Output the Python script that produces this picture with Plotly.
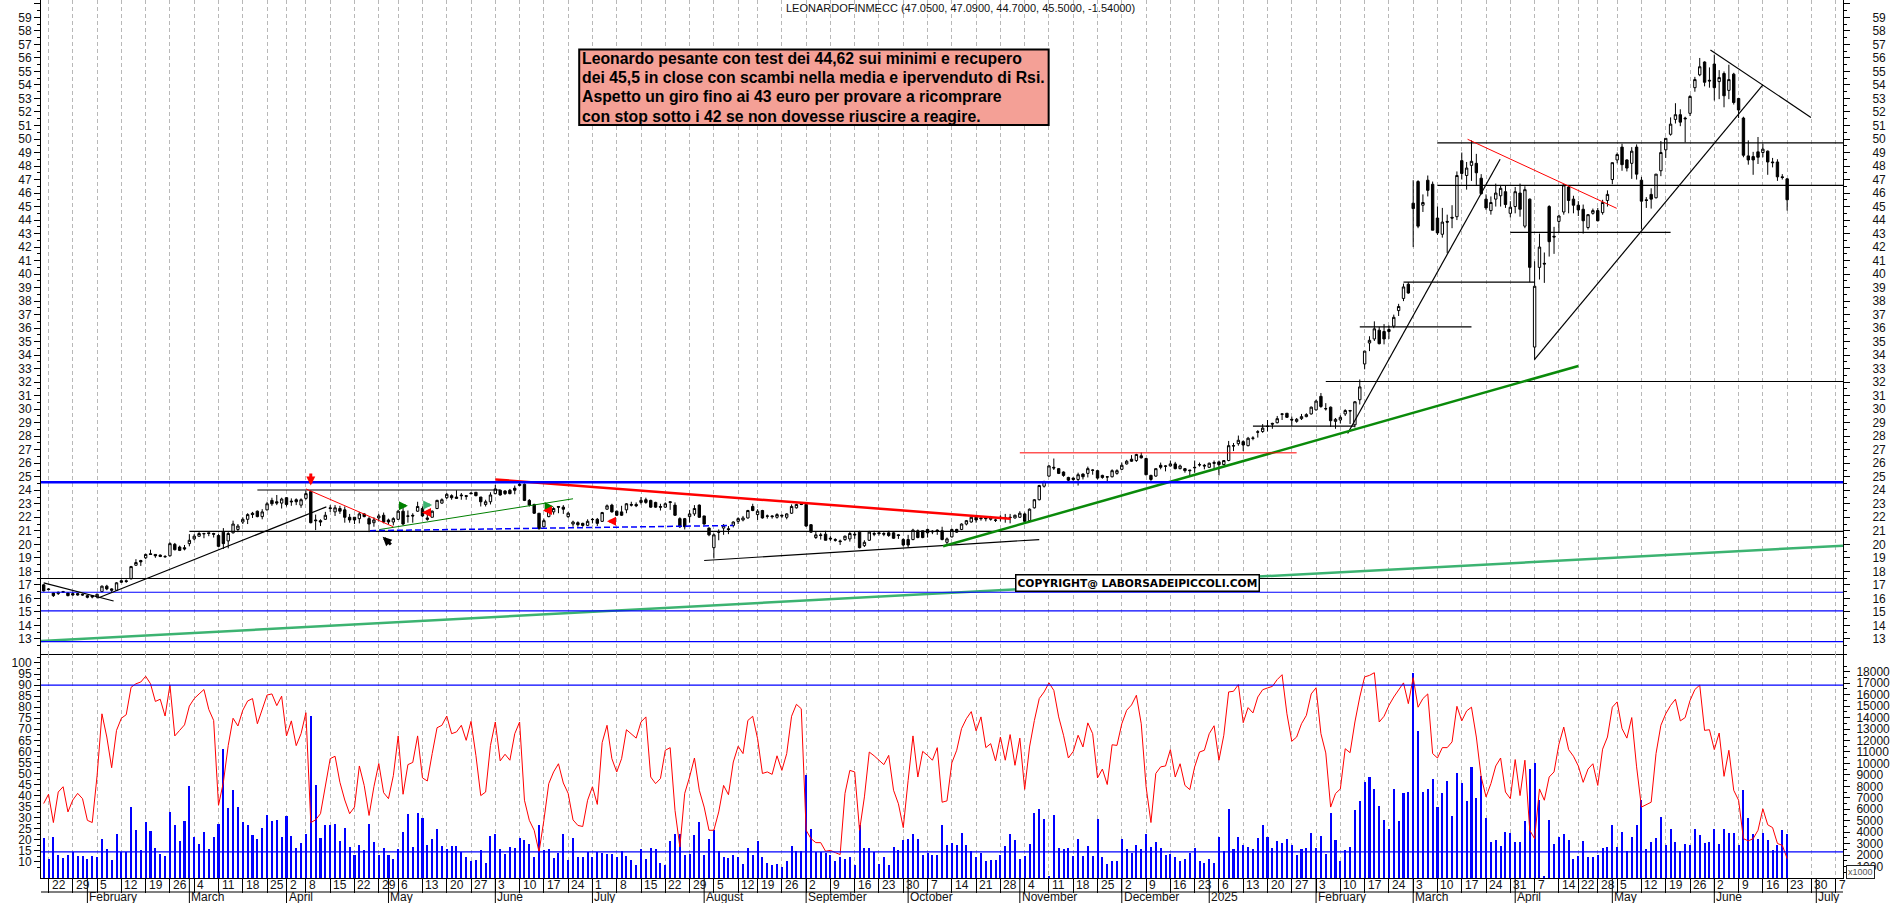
import plotly.graph_objects as go

opens = [17.0,16.7,16.4,16.35,16.5,16.4,16.35,16.35,16.3,16.2,
16.2,16.1,16.5,16.9,16.7,16.6,17.3,17.3,17.45,18.45,
18.8,19.0,19.3,19.25,19.2,19.1,19.15,20.0,19.8,19.75,
20.05,20.4,20.6,20.8,20.85,20.8,20.65,20.9,20.25,20.85,
21.1,21.65,21.85,22.3,22.45,22.05,22.55,23.25,23.15,23.05,
23.45,23.2,23.3,22.9,23.4,23.9,21.8,21.75,21.85,22.7,
22.4,22.65,22.55,22.0,22.0,21.9,22.25,21.9,21.6,21.95,
22.15,21.8,21.65,21.85,22.45,22.1,22.15,22.45,22.65,21.95,
22.0,22.65,23.05,23.45,23.6,23.5,23.65,23.6,23.8,23.85,
23.5,22.95,23.15,23.75,24.0,23.95,24.0,24.15,24.35,24.45,
23.25,22.95,22.3,21.3,22.05,22.4,22.8,22.75,22.05,21.5,
21.6,21.55,21.4,21.85,21.85,21.7,22.6,22.9,22.45,22.4,
22.55,22.95,22.95,23.1,23.3,23.25,23.1,22.8,22.75,23.15,
22.9,21.9,21.9,22.05,22.25,22.9,22.1,21.2,19.75,20.95,
21.2,21.15,21.4,21.7,21.8,21.95,22.8,22.2,22.5,22.1,
22.1,22.0,22.15,22.0,22.3,22.7,23.0,22.95,21.45,20.5,
20.7,20.75,20.45,20.35,20.25,20.35,20.4,20.75,20.9,19.9,
20.3,20.8,20.85,20.8,20.85,20.85,20.7,20.35,20.35,20.35,
21.0,21.0,21.1,20.97,20.95,21.0,20.15,20.55,21.1,21.1,
21.5,21.65,22.0,21.95,21.95,21.85,21.8,22.0,21.95,22.0,
21.95,22.0,22.25,21.75,22.7,23.3,24.3,25.05,25.7,25.6,
25.35,24.95,24.9,24.8,25.2,25.25,25.5,25.45,25.1,25.0,
25.0,25.25,25.55,25.95,26.3,26.2,26.55,26.35,25.1,25.05,
25.85,25.8,25.8,25.95,25.6,25.6,25.5,25.7,25.9,25.85,
25.7,26.05,26.1,25.9,26.2,27.3,27.45,27.6,27.3,27.87,
28.33,28.35,28.75,28.95,29.0,29.65,29.7,29.25,29.1,29.3,
29.45,29.65,29.95,30.95,30.05,30.15,29.1,29.2,29.65,29.9,
28.85,30.7,33.35,34.9,35.2,35.85,35.75,35.75,36.15,37.3,
38.2,39.25,45.25,46.85,45.1,46.95,46.65,44.15,42.95,43.9,
44.2,44.25,48.4,47.3,48.05,48.2,47.1,45.55,44.7,45.55,
45.8,46.1,44.5,45.0,46.0,43.55,45.55,34.6,40.5,40.8,
45.0,42.8,43.9,44.6,46.45,45.55,45.1,44.8,43.45,44.5,
44.7,44.55,45.45,47.0,48.45,49.4,48.45,48.2,49.4,46.95,
45.5,45.9,45.65,47.65,49.2,50.35,51.45,51.8,51.55,51.9,
53.8,54.75,55.7,54.35,55.55,54.25,54.85,53.6,54.8,53.0,
51.55,48.75,48.7,49.05,49.0,49.1,48.3,48.3,47.2,47.05]

highs = [17.05,16.75,16.45,16.5,16.55,16.45,16.5,16.4,16.35,16.25,
16.25,16.35,16.95,17.0,16.75,17.2,17.4,17.4,18.4,18.9,
18.85,19.3,19.6,19.25,19.25,19.2,20.15,20.1,19.9,19.95,
20.75,20.75,20.9,20.85,20.85,20.85,20.75,21.2,20.9,21.75,
21.5,22.0,22.3,22.4,22.5,22.6,23.15,23.45,23.65,23.45,
23.5,23.4,23.4,23.4,23.95,24.0,22.2,21.85,22.4,22.9,
22.9,22.85,22.8,22.25,22.0,22.4,22.3,22.05,22.0,22.25,
22.35,21.9,22.0,22.55,22.85,22.5,22.3,23.15,22.8,22.25,
22.5,23.3,23.4,23.8,23.7,24.0,23.8,23.65,23.85,23.85,
23.5,23.3,23.85,24.4,24.05,24.0,24.1,24.35,24.65,24.5,
23.35,23.0,22.3,21.9,22.9,22.75,22.8,22.9,22.4,21.75,
21.7,21.6,21.85,21.95,21.95,22.4,22.95,23.0,22.5,22.85,
23.05,23.15,23.1,23.5,23.45,23.3,23.15,23.0,23.1,23.2,
23.1,22.0,21.95,22.55,22.9,22.95,22.1,21.25,20.8,21.1,
21.5,21.35,21.7,22.0,22.1,22.55,23.0,22.6,22.55,22.2,
22.15,22.3,22.2,22.3,22.95,23.0,23.05,23.0,21.5,20.95,
20.85,21.0,20.6,20.45,20.35,20.65,20.95,20.95,21.0,20.3,
21.0,21.0,20.9,20.9,21.0,20.9,20.75,20.45,20.7,21.15,
21.1,21.0,21.15,21.05,21.1,21.3,20.5,21.15,21.15,21.55,
21.8,22.05,22.15,22.05,22.0,22.1,21.9,22.15,22.25,22.25,
22.2,22.45,22.35,22.65,23.35,24.4,24.7,25.85,26.35,25.65,
25.4,25.0,24.95,25.3,25.25,25.75,25.55,25.5,25.15,25.05,
25.55,25.55,26.05,26.25,26.6,26.7,26.8,26.4,25.15,25.6,
26.05,25.85,26.2,26.1,25.9,25.65,25.5,26.2,26.05,25.95,
26.05,26.2,26.2,26.2,27.65,27.5,28.05,27.7,27.95,28.0,
28.45,28.9,29.2,29.0,29.5,29.7,29.7,29.45,29.35,29.65,
29.7,30.2,30.7,31.2,30.45,30.2,29.35,29.55,30.0,29.95,
30.6,32.2,34.3,35.4,36.5,36.1,36.3,36.2,37.0,37.8,
39.3,39.4,46.95,46.95,45.9,47.3,46.85,45.0,44.9,44.4,
45.1,47.6,49.0,48.3,49.9,48.9,47.4,45.9,45.75,46.7,
46.6,46.55,45.4,46.45,46.7,46.5,45.6,40.95,43.0,41.6,
45.1,43.5,44.4,46.65,46.55,45.8,45.4,45.15,44.45,44.85,
44.9,45.5,46.2,48.25,49.0,49.65,48.5,49.4,49.6,47.2,
45.7,46.35,47.4,49.85,50.05,51.6,52.65,52.2,51.65,53.25,
54.6,56.0,55.75,55.3,56.25,55.1,55.0,55.5,54.9,53.05,
51.65,49.9,49.05,50.15,49.65,49.15,48.6,48.5,47.4,47.09]

lows = [16.5,16.6,16.1,16.25,16.4,16.15,16.2,16.2,16.2,16.0,
16.0,16.0,16.45,16.6,16.45,16.55,17.15,17.15,17.4,18.4,
18.4,18.9,19.25,19.0,19.05,19.0,19.1,19.55,19.5,19.55,
19.85,20.3,20.55,20.45,20.6,20.5,19.8,19.65,19.7,20.8,
20.9,21.5,21.5,21.95,22.0,21.85,22.5,22.85,22.9,22.65,
22.8,22.85,22.9,22.7,23.3,21.55,21.05,21.35,21.8,22.4,
22.1,22.25,21.6,21.6,21.5,21.55,22.0,20.9,21.3,21.7,
21.55,21.5,21.4,21.8,21.4,21.6,21.6,22.4,22.0,21.75,
22.0,22.6,23.0,23.35,23.3,23.4,23.3,23.3,23.7,23.55,
22.8,22.8,22.95,23.7,23.6,23.65,23.7,23.7,24.3,23.2,
22.8,22.25,21.1,21.25,22.0,22.2,22.3,22.25,21.95,21.3,
21.3,21.3,21.35,21.55,21.35,21.65,22.55,22.35,22.1,22.1,
22.3,22.8,22.75,22.95,23.0,22.7,22.7,22.5,22.7,22.55,
22.1,21.2,21.1,21.6,22.1,21.95,21.45,20.6,18.95,20.3,
20.7,20.75,21.25,21.5,21.7,21.9,22.45,21.8,21.9,21.9,
21.9,21.9,21.95,21.85,22.25,22.65,22.9,21.3,20.85,20.4,
20.35,20.3,20.25,20.2,19.95,20.25,20.2,20.4,19.7,19.8,
20.25,20.6,20.65,20.6,20.55,20.4,20.4,19.85,19.75,20.3,
20.45,20.45,20.5,20.75,20.7,20.3,19.95,20.5,20.85,21.05,
21.4,21.6,21.6,21.75,21.7,21.75,21.65,21.7,21.6,21.55,
21.9,21.95,21.65,21.7,22.65,23.25,24.2,25.0,25.5,25.2,
25.0,24.6,24.7,24.35,24.8,24.95,25.15,24.8,24.85,24.6,
24.95,25.15,25.5,25.9,26.1,26.1,26.35,25.1,24.7,25.0,
25.55,25.4,25.75,25.55,25.55,25.3,25.05,25.3,25.75,25.55,
25.65,25.55,25.1,25.85,26.15,26.9,27.3,26.9,27.25,27.7,
27.9,28.25,28.35,28.55,28.95,29.2,29.35,28.75,29.0,29.2,
29.4,29.6,29.9,30.1,29.9,28.7,28.55,28.95,29.5,28.9,
28.65,30.35,32.95,34.3,35.05,34.8,34.8,35.2,36.0,36.9,
38.0,38.55,42.0,43.4,44.6,45.75,43.25,42.9,42.7,41.55,
43.4,44.0,47.0,46.25,46.9,46.55,45.9,44.75,44.4,45.0,
45.0,44.9,44.2,44.5,44.25,43.4,39.4,33.65,39.6,39.35,
41.3,41.5,43.1,44.4,44.5,44.5,44.3,43.0,43.3,44.4,
43.9,44.4,45.0,46.65,48.2,47.65,47.6,47.05,47.0,43.3,
44.9,44.85,45.6,47.25,48.6,50.25,51.15,50.95,49.75,51.7,
53.5,54.65,53.9,53.8,52.85,52.95,52.35,52.95,52.55,51.55,
48.65,48.1,47.35,48.15,48.65,47.35,47.9,46.9,47.0,44.7]

closes = [16.55,16.65,16.2,16.45,16.45,16.2,16.25,16.25,16.25,16.08,
16.1,16.3,16.9,16.7,16.6,17.15,17.2,17.25,18.35,18.65,
18.7,19.25,19.25,19.15,19.1,19.08,20.05,19.6,19.55,19.65,
20.3,20.6,20.8,20.78,20.8,20.75,19.85,20.05,20.8,21.5,
21.35,21.85,22.2,22.2,22.05,22.4,23.0,23.0,23.05,23.35,
22.95,23.15,23.15,23.3,23.75,21.6,21.75,21.65,22.15,22.65,
22.7,22.45,22.0,21.8,21.8,22.25,22.05,21.5,21.8,22.1,
21.65,21.65,21.9,22.45,21.5,22.08,22.1,22.8,22.1,21.85,
22.45,23.25,23.3,23.7,23.45,23.4,23.6,23.55,23.75,23.6,
23.15,23.15,23.65,24.1,23.65,23.75,23.75,24.0,24.45,23.25,
22.9,22.3,21.15,21.75,22.75,22.65,22.75,22.6,22.3,21.65,
21.45,21.4,21.7,21.83,21.55,22.35,22.85,22.4,22.15,22.15,
23.0,22.9,22.85,23.25,23.1,22.75,22.75,22.75,23.0,23.1,
22.15,21.3,21.3,22.25,22.65,22.0,21.5,20.7,20.7,20.9,
21.4,21.1,21.65,21.9,21.95,22.5,22.5,22.45,21.95,22.08,
22.05,22.2,22.1,22.25,22.8,22.95,22.95,21.35,20.9,20.7,
20.65,20.3,20.4,20.3,20.2,20.6,20.8,20.7,19.75,20.15,
20.9,20.75,20.8,20.75,20.65,20.45,20.65,19.95,19.95,21.05,
20.5,20.5,20.85,20.93,21.05,20.35,20.4,21.1,20.9,21.5,
21.75,22.0,21.8,21.9,21.9,22.0,21.78,21.95,21.93,21.98,
22.15,22.3,21.7,22.6,23.3,24.35,24.65,25.8,25.65,25.25,
25.1,24.75,24.8,25.15,25.0,25.6,25.48,24.9,24.95,24.98,
25.45,25.45,25.85,26.15,26.15,26.65,26.4,25.15,24.8,25.6,
25.7,25.78,25.95,25.6,25.8,25.45,25.45,25.67,25.88,25.8,
26.0,26.0,25.9,26.2,27.3,27.28,27.7,27.35,27.85,27.85,
28.3,28.6,28.72,28.9,29.3,29.63,29.4,29.2,29.25,29.45,
29.6,30.15,30.6,30.2,30.03,29.15,29.25,29.4,29.9,29.87,
30.55,31.65,34.3,35.1,35.95,34.85,35.2,35.9,36.8,37.6,
39.05,38.6,44.85,43.55,45.3,46.2,43.25,43.05,43.85,43.85,
44.15,47.3,47.45,47.85,48.35,47.5,45.95,44.9,45.3,46.0,
46.35,45.15,44.95,46.1,44.8,46.25,40.5,39.1,42.0,40.75,
42.4,42.75,44.3,46.6,45.45,45.1,44.75,43.95,44.4,44.7,
43.95,45.3,45.9,48.25,48.85,48.1,47.85,49.1,47.4,45.4,
45.45,45.55,47.4,49.0,50.05,51.1,51.8,51.25,51.5,53.15,
54.4,55.35,54.2,54.3,53.8,54.55,53.2,54.4,52.7,52.15,
48.8,48.45,48.45,48.65,49.25,48.3,48.25,47.2,47.15,45.5]

rsi = [36.4,40.6,27.8,41.6,44,32.6,38,41,38.6,28.8,
27.8,49,77,66.5,52.6,69.5,75,76.6,89,90.6,
91.4,94,90.6,82.6,83.6,76,90,67,69.5,72,
80.5,83.9,86,88,79,74,35.6,46,62.7,75,
71.5,78.6,82.8,83.9,72.5,78.6,85.5,86,80.7,85,
67,73.8,62.6,68,77.5,27.8,29,31.8,44,56.7,
57.8,46,38,31.8,34.8,53.4,44.6,31,44,54.5,
41.3,38.6,49,67,40.6,54,55,67,48,46.6,
59,70.7,71.8,76,68,68.8,71.8,65,73.6,58.2,
40,41.6,62.7,73.3,55.7,58.7,56,68,73.3,37.9,
28.8,24.3,14.5,28.8,45.4,50.7,54.4,45.7,41,29,
26.5,26,37.9,44,36,64,71.8,56.7,50.7,56.7,
69.8,67.7,66,73.3,75.6,48.4,45.4,47.7,60.5,61.7,
33.3,16.7,41,48.4,57,42.4,34.8,24.3,24.3,32.6,
44.6,40.4,55.2,62.3,59,74,75.9,65.8,50,50.7,
49.6,58,51.4,59,75.9,81.3,79.3,24.3,20.5,18.7,
18.7,14.8,15.2,14.2,13.3,41,51.4,50.7,24.3,39.4,
59.7,58,56,54,58.2,42.4,36.3,25.5,46.9,67,
48.4,60,58.2,56,61.7,37,37.6,54.8,60.5,70.3,
74.8,78,69.3,75.6,61.7,63.5,55.7,66.5,56,67.6,
53.7,66,42.8,62,74,83.9,86.9,91,87.6,75.6,
67.3,57,60,67.3,62,72.9,68,48,52,45,
63,62.7,72.5,78.6,81,85.4,72.5,44,27.8,50,
53,53.4,60.8,48.4,54.4,44.6,42.7,53,59.7,60.5,
68,71.6,56,67.3,86.9,87.2,90.2,73,79.8,77.4,
84.6,87.9,88.7,89.4,92.5,94.7,77,64.6,66.5,72.5,
76.3,86,88.8,68,59.3,34.8,40.9,43,61.2,59.4,
73.3,84.6,93.7,94.4,95.6,73.3,75.9,80.8,84.6,87.6,
91,81.6,93.4,80,83.9,86,59,57,61.7,61.7,
64.3,80.4,73.8,78.3,80,66.5,48.4,39.4,45.4,53.4,
57,41.6,38.6,56.3,40,56,24.3,20.5,43,37.9,
48.4,50.7,63.2,71,60.8,57.8,53.4,46,52,54.4,
44.6,61,66.5,80,82.4,70.3,66,75.3,53,34.8,
36,37,59,71.8,77,80.8,83.6,73.8,75.3,83,
88,90,69.5,69.8,60.8,68.3,48.7,60.5,42.4,37.9,
20.5,19.5,20.5,24.3,34,26.8,25.5,18.3,17.5,11.5]

volume = [3500,1700,3600,2000,1750,2000,2250,1900,1900,1700,
1950,1850,3400,2550,1600,3850,2250,2250,6200,4200,
2450,4850,4100,2600,2100,1950,5800,4650,3200,5000,
8050,3550,3000,4000,2500,3550,4750,11300,6100,7700,
6200,4900,4650,3750,3400,4400,5500,5000,5100,3600,
5400,3650,2600,3050,3800,14100,8100,3450,4650,4650,
4700,3200,4400,2700,2050,2900,2450,4700,3150,2050,
2600,2050,1650,2500,4000,5600,2700,5700,5250,2900,
3400,4300,2750,2500,2750,2750,2250,1800,1450,1550,
2450,1350,3650,3800,2550,2100,2700,2600,3450,3300,
3000,1850,4650,2450,2550,1750,2200,3850,1550,3450,
1850,1800,2300,1800,2300,2200,2100,2100,1800,2350,
1950,1600,1150,2500,1700,2600,2550,1300,1150,3250,
3800,3850,2050,2100,3750,4900,2050,3400,4150,2350,
1850,1750,2050,1850,1250,2600,2000,3200,1850,1350,
1100,1200,950,1450,2750,2350,2350,9000,4300,2250,
2250,2150,2050,1450,1850,1700,1800,1150,4650,2600,
2600,2250,1200,1850,1150,2700,2450,3300,3400,3850,
3400,2000,2200,2000,2000,4600,2900,3050,2850,3900,
2850,2400,1850,2200,1500,1600,1600,2000,2750,3850,
3350,1700,1900,3000,5700,6000,5150,150,5500,2600,
2500,2600,1900,3400,1900,2750,1950,5150,1850,1250,
1450,1450,3400,2550,2200,2900,2550,3850,2700,3150,
2600,2000,2100,1850,1450,1700,2200,2600,1500,1300,
1650,1300,3600,2350,6000,2550,3550,2900,2700,2550,
3450,4650,3600,2600,3250,3050,3400,2900,2050,2500,
2600,3900,2600,3700,2100,5700,3300,1500,2450,2700,
5900,6750,8400,8800,7750,6300,5100,4300,7800,5000,
7400,7500,17900,12800,7500,7800,8600,6200,7450,8500,
5450,9200,8250,6750,9700,7000,8900,5250,3150,3300,
2750,4000,3900,3100,3100,5000,9550,10000,6800,100,
5100,3000,3600,3850,3350,1700,1950,3200,1850,1850,
2050,2600,2700,4650,2700,4000,2350,3550,4600,6850,
2550,3150,3500,5350,2850,4250,3150,2350,3000,2900,
4300,3750,3050,3100,4300,3000,4300,3950,3900,2900,
7700,5250,3800,3400,3900,3350,2450,2850,4150,3850]

week_idx = [1,6,11,16,21,26,31,36,41,46,50,54,59,64,69,73,78,83,88,93,98,103,108,113,118,123,128,133,138,143,147,152,157,162,167,172,177,182,187,192,197,202,207,212,217,222,227,232,237,242,247,252,257,262,267,272,277,282,287,292,297,302,307,312,316,320,324,329,334,339,344,349,354,359,364,369]
week_labels = [22,29,5,12,19,26,4,11,18,25,2,8,15,22,29,6,13,20,27,3,10,17,24,1,8,15,22,29,5,12,19,26,2,9,16,23,30,7,14,21,28,4,11,18,25,2,9,16,23,6,13,20,27,3,10,17,24,3,10,17,24,31,7,14,22,28,5,12,19,26,2,9,16,23,30,7]
month_idx = [9,30,50,71,93,113,136,157,178,201,222,240,262,282,303,323,344,365]
month_labels = ["February","March","April","May","June","July","August","September","October","November","December","2025","February","March","April","May","June","July"]

price_ticks = list(range(13, 61))
rsi_ticks = list(range(10, 101, 5))
vol_ticks = list(range(1000, 18001, 1000))

note_lines = ["Leonardo pesante con test dei 44,62 sui minimi e recupero",
              "dei 45,5 in close con scambi nella media e ipervenduto di Rsi.",
              "Aspetto un giro fino ai 43 euro per provare a ricomprare",
              "con stop sotto i 42 se non dovesse riuscire a reagire."]

XMIN, XMAX = -0.55, 370.5

# (x0, y0, x1, y1) in bar index and price
black_lines = [
    (XMIN,17.47,XMAX,17.47),(30,20.96,XMAX,20.96),(264,32.05,XMAX,32.05),
    (44,24.02,94,24.02),(280,39.4,307,39.4),(271,36.1,294,36.1),(249,28.75,270,28.75),
    (287,49.72,XMAX,49.72),(287,46.57,XMAX,46.57),(302,43.09,335,43.09),
    (0,17.15,14.4,15.8),(11.2,16.03,58.2,22.77),(343.2,56.59,363.9,51.6),
    (307,33.68,354,54),(268.5,28.2,299.9,48.5),(136,18.8,205,20.35),
]
thin_blue_levels = [16.45,15.07,12.8]
blue_top = 24.6
red_thin = [(54,24.1,72,21.3),(201,26.77,258,26.77),(293.2,49.98,323.9,44.87)]
red_thick = (93,24.8,199.1,21.9)
green_thick = (185.2,19.86,316,33.2)
green_thin = (69.1,21.09,109,23.37)
seagreen_thick = (XMIN,12.84,XMAX,19.9)
blue_dash = (67.2,21.01,142,21.39)
arrows = [  # tip x, tip y, tail x, tail y, colour
    (55,24.35,55,25.35,"#ff0000"),
    (69.8,20.55,71.8,19.88,"#000000"),
    (75,22.85,73.2,22.85,"#008000"),
    (80,22.9,78.4,22.9,"#3cb371"),
    (77.9,22.35,80,22.35,"#ff0000"),
    (105,22.8,103,22.8,"#008000"),
    (102.8,22.5,104.6,22.5,"#ff0000"),
    (116,21.7,117.6,21.7,"#ff0000"),
]

FONT = "Liberation Sans, Arial, sans-serif"
PLOT_H = 878.0
PLOT_W = 1808.0
def py(px): return (PLOT_H - px) / PLOT_H
def pxx(px): return (px - 41) / PLOT_W

x = list(range(len(closes)))
fig = go.Figure()
fig.add_trace(go.Candlestick(x=x, open=opens, high=highs, low=lows, close=closes,
    increasing=dict(line=dict(color="black", width=1), fillcolor="white"),
    decreasing=dict(line=dict(color="black", width=1), fillcolor="black"),
    whiskerwidth=0, xaxis="x", yaxis="y", showlegend=False, hoverinfo="skip"))
fig.add_trace(go.Scatter(x=x, y=closes, mode="lines", line=dict(width=0), opacity=0,
    xaxis="x", yaxis="y3", showlegend=False, hoverinfo="skip"))

def seg(s, color, width, dash="solid"):
    fig.add_trace(go.Scatter(x=[s[0], s[2]], y=[s[1], s[3]], mode="lines",
        line=dict(color=color, width=width, dash=dash),
        xaxis="x", yaxis="y", showlegend=False, hoverinfo="skip"))

seg(seagreen_thick, "#3cb371", 2.5)
for lvl in thin_blue_levels:
    seg((XMIN, lvl, XMAX, lvl), "#0000ff", 1.2)
for s in black_lines:
    seg(s, "black", 1.2)
seg(green_thin, "#008000", 1)
seg(green_thick, "#0a8a0a", 2.5)
for s in red_thin:
    seg(s, "#ff0000", 1)
seg(red_thick, "#ff0000", 2.5)
seg(blue_dash, "#0000ff", 1.5, "6px,3px")
seg((XMIN, blue_top, XMAX, blue_top), "#0000ff", 2.5)

fig.add_trace(go.Bar(x=x, y=volume, marker=dict(color="#0000ff", line=dict(width=0)), width=0.42,
    xaxis="x2", yaxis="y2", showlegend=False, hoverinfo="skip"))
fig.add_trace(go.Scatter(x=x, y=rsi, mode="lines", line=dict(color="#ff0000", width=1),
    xaxis="x2", yaxis="y4", showlegend=False, hoverinfo="skip"))
for lvl in (90, 14.5):
    fig.add_trace(go.Scatter(x=[XMIN, XMAX], y=[lvl, lvl], mode="lines", line=dict(color="#0000ff", width=1.2),
        xaxis="x2", yaxis="y4", showlegend=False, hoverinfo="skip"))

tick_font = dict(family=FONT, size=12, color="#111111")
grid = dict(showgrid=True, gridcolor="#b8b8b8", griddash="4px,3px", gridwidth=1)
ax_common = dict(range=[XMIN, XMAX], tickmode="array", tickvals=week_idx, zeroline=False,
                 showline=True, linecolor="black", linewidth=1.2, **grid)
DOM = (PLOT_H - 654) / PLOT_H
y_minor = dict(showgrid=False, ticks="outside", ticklen=3, tickcolor="black")
fig.update_layout(
    width=1890, height=903, autosize=False, paper_bgcolor="white", plot_bgcolor="white",
    margin=dict(l=41, r=41, t=0, b=25, pad=0), showlegend=False, bargap=0,
    font=dict(family=FONT, size=12, color="#111111"),
    xaxis=dict(domain=[0,1], anchor="y", showticklabels=False, ticks="", rangeslider=dict(visible=False), **ax_common),
    xaxis2=dict(domain=[0,1], anchor="y2", showticklabels=False, ticks="outside", ticklen=14, tickcolor="black", matches="x", **ax_common),
    yaxis=dict(domain=[DOM,1], anchor="x", range=[11.88,60.29], tickmode="array", tickvals=price_ticks,
               ticks="outside", ticklen=6, tickcolor="black", showgrid=False, zeroline=False, showline=True,
               linecolor="black", tickfont=tick_font, minor=dict(tick0=0.5, dtick=1, **y_minor)),
    yaxis3=dict(domain=[DOM,1], anchor="x", overlaying="y", side="right", range=[11.88,60.29], tickmode="array",
                tickvals=price_ticks, ticks="outside", ticklen=6, tickcolor="black", showgrid=False, zeroline=False,
                showline=True, linecolor="black", tickfont=tick_font, ticklabelstandoff=20,
                minor=dict(tick0=0.5, dtick=1, **y_minor)),
    yaxis2=dict(domain=[0,DOM], anchor="x2", side="right", range=[0,19550], tickmode="array", tickvals=vol_ticks,
                tickformat="d", ticks="outside", ticklen=6, tickcolor="black", showgrid=False, zeroline=False, showline=True,
                linecolor="black", tickfont=tick_font, ticklabelstandoff=4,
                minor=dict(tick0=500, dtick=1000, **y_minor)),
    yaxis4=dict(domain=[0,DOM], anchor="x2", overlaying="y2", side="left", range=[2.7,104.07], tickmode="array",
                tickvals=rsi_ticks, ticks="outside", ticklen=6, tickcolor="black", showgrid=False, zeroline=False,
                showline=True, linecolor="black", tickfont=tick_font, minor=dict(tick0=2.5, dtick=5, **y_minor)),
)

anns = []
lab_font = dict(family=FONT, size=12, color="#111111")
for i, t in zip(week_idx, week_labels):
    anns.append(dict(x=i, y=py(884.6), xref="x2", yref="paper", text=str(t), showarrow=False,
                     xanchor="left", yanchor="middle", xshift=1, font=lab_font))
for i, t in zip(month_idx, month_labels):
    anns.append(dict(x=i, y=py(897), xref="x2", yref="paper", text=t, showarrow=False,
                     xanchor="left", yanchor="middle", xshift=0, font=lab_font))
for a in arrows:
    anns.append(dict(x=a[0], y=a[1], ax=a[2], ay=a[3], xref="x", yref="y", axref="x", ayref="y", text="",
                     showarrow=True, arrowhead=2, arrowsize=0.6, arrowwidth=3, arrowcolor=a[4]))
anns.append(dict(x=pxx(786), y=py(8.5), xref="paper", yref="paper", xanchor="left", yanchor="middle", showarrow=False,
                 text="LEONARDOFINMECC (47.0500, 47.0900, 44.7000, 45.5000, -1.54000)",
                 font=dict(family=FONT, size=11, color="#111111")))
for n, line in enumerate(note_lines):
    anns.append(dict(x=pxx(582), y=py(58.5 + 19.2 * n), xref="paper", yref="paper", xanchor="left", yanchor="middle",
                     showarrow=False, align="left", text=line,
                     font=dict(family=FONT, size=15.8, color="black", weight="bold")))
anns.append(dict(x=pxx(1018), y=py(574), xref="paper", yref="paper", xanchor="left", yanchor="top", showarrow=False,
                 bgcolor="white", bordercolor="black", borderwidth=1.5, borderpad=1,
                 text="COPYRIGHT@ LABORSADEIPICCOLI.COM",
                 font=dict(family="DejaVu Sans, sans-serif", size=10.7, color="black", weight="bold")))
anns.append(dict(x=pxx(1852), y=py(872), xref="paper", yref="paper", xanchor="left", yanchor="middle", showarrow=False,
                 bgcolor="white", bordercolor="#222222", borderwidth=1, borderpad=1, text="x1000",
                 font=dict(family=FONT, size=9, color="#555555")))
shapes = [dict(type="line", xref="paper", yref="paper", x0=0, x1=1, y0=py(892), y1=py(892), line=dict(color="black", width=1.2)),
          dict(type="rect", xref="paper", yref="paper", x0=pxx(581), x1=pxx(1052), y0=py(49.5), y1=py(125),
               fillcolor="#f4a096", line=dict(color="black", width=2), layer="above")]
for i in month_idx:
    shapes.append(dict(type="line", xref="x2", yref="paper", x0=i, x1=i, y0=py(878), y1=py(903), line=dict(color="black", width=1)))
fig.update_layout(annotations=anns, shapes=shapes)

fig.write_html("out.html", post_script="document.body.style.margin='0';", config={"displayModeBar": False})
